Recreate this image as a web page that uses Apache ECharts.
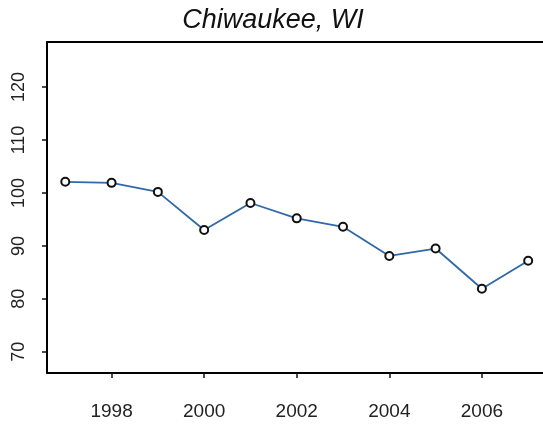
<!DOCTYPE html>
<html>
<head>
<meta charset="utf-8">
<script src="https://cdn.jsdelivr.net/npm/echarts@6/dist/echarts.min.js"></script>
<style>
  html, body { margin: 0; padding: 0; background: #fff; }
  #main { width: 543px; height: 426px; }
</style>
</head>
<body>
<div id="main"></div>
<script>
// chart values
var years = [1997, 1998, 1999, 2000, 2001, 2002, 2003, 2004, 2005, 2006, 2007];
var values = [102.1, 101.9, 100.2, 93.0, 98.1, 95.2, 93.6, 88.1, 89.5, 81.9, 87.2];
var xTicks = [1998, 2000, 2002, 2004, 2006];
var yTicks = [70, 80, 90, 100, 110, 120];
var chartTitle = 'Chiwaukee, WI';

var myChart = echarts.init(document.getElementById('main'));

var pts = [];
for (var i = 0; i < years.length; i++) {
    pts.push([years[i], values[i]]);
}

var font = 'Liberation Sans, Arial, sans-serif';
var frame = { show: true, onZero: false, lineStyle: { color: '#000', width: 2 } };

var option = {
    animation: false,
    backgroundColor: '#ffffff',
    graphic: [{
        type: 'text',
        x: 273,
        y: 20,
        style: {
            text: chartTitle,
            textAlign: 'center',
            textVerticalAlign: 'middle',
            fontFamily: font,
            fontStyle: 'italic',
            fontSize: 27,
            fill: '#111'
        }
    }],
    // the plot box runs past the right edge of the picture, so no right border
    grid: {
        left: 47,
        top: 42,
        right: 0,
        height: 331
    },
    xAxis: [{
        type: 'value',
        min: 1996.605,
        max: 2007.32,
        splitLine: { show: false },
        axisLine: frame,
        axisTick: {
            show: true,
            customValues: xTicks,
            length: 5,
            lineStyle: { color: '#111', width: 1.5 }
        },
        axisLabel: {
            customValues: xTicks,
            formatter: function (v) { return String(v); },
            margin: 29,
            fontFamily: font,
            fontSize: 19,
            color: '#222'
        }
    }, {
        type: 'value',
        position: 'top',
        min: 1996.605,
        max: 2007.32,
        splitLine: { show: false },
        axisLine: frame,
        axisTick: { show: false },
        axisLabel: { show: false }
    }],
    yAxis: {
        type: 'value',
        min: 66,
        max: 128.5,
        splitLine: { show: false },
        axisLine: frame,
        axisTick: {
            show: true,
            customValues: yTicks,
            length: 5,
            lineStyle: { color: '#111', width: 1.5 }
        },
        axisLabel: {
            customValues: yTicks,
            formatter: function (v) { return String(v); },
            rotate: 90,
            margin: 19,
            fontFamily: font,
            fontSize: 18,
            color: '#222'
        }
    },
    series: [{
        type: 'line',
        data: pts,
        symbol: 'emptyCircle',
        symbolSize: 8,
        showAllSymbol: true,
        lineStyle: { color: '#3068a8', width: 1.8 },
        itemStyle: { color: '#111', borderColor: '#111', borderWidth: 1.5 }
    }]
};

myChart.setOption(option);
</script>
</body>
</html>
